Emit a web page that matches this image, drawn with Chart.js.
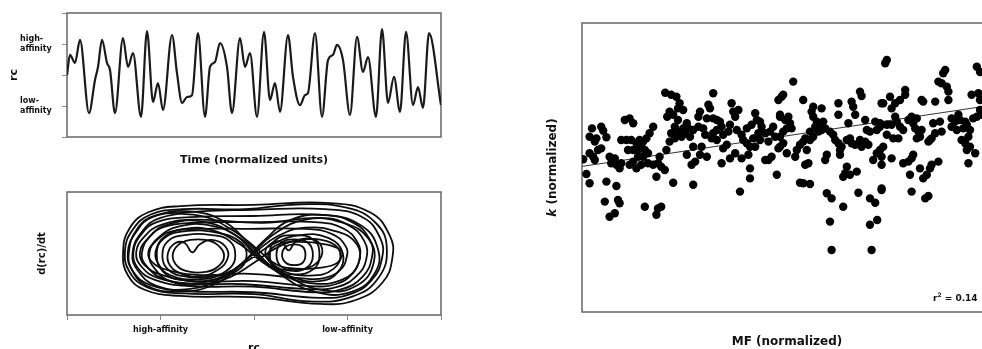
<!DOCTYPE html>
<html>
<head>
<meta charset="utf-8">
<script src="https://cdn.jsdelivr.net/npm/chart.js@4.4.1/dist/chart.umd.min.js"></script>
<style>
  html, body { margin: 0; padding: 0; background: #fff; }
  body { position: relative; width: 982px; height: 349px; overflow: hidden; }
  canvas { position: absolute; }
</style>
</head>
<body>
<canvas id="timeChart" width="460" height="175" style="left:0;top:0;width:460px;height:175px"></canvas>
<canvas id="phaseChart" width="460" height="185" style="left:0;top:175px;width:460px;height:185px"></canvas>
<canvas id="scatterChart" width="470" height="349" style="left:530px;top:0;width:470px;height:349px"></canvas>
<script>
// ---------- rc time course ----------
const timeValues = [0,3,8,13,22,28,31,35,40,43,48,56,61,66,74,80,86,91,96,105,110,115,120,125,131,138,143,148,153,160,165,173,178,183,190,197,203,208,213,221,226,233,238,241,248,255,261,266,270,276,283,290,296,301,309,315,321,327,333,339,346,351,356,362,374];
const rcValues = [2.0,2.65,2.39,3.13,0.77,1.84,2.26,3.13,2.39,2.16,0.77,3.19,2.26,2.71,0.65,3.42,1.13,1.74,0.87,3.29,2.06,1.10,1.29,1.35,3.35,0.65,2.26,2.42,3.03,2.26,0.77,3.19,2.26,2.71,0.65,3.39,1.19,1.74,0.81,3.29,1.94,1.03,1.35,1.42,3.35,0.65,2.48,2.65,2.97,2.48,0.71,3.23,2.10,2.58,0.65,3.48,1.10,1.94,0.81,3.39,1.03,1.61,0.94,3.35,1.03];
const rcTickLabels = ['', ['low-', 'affinity'], '', ['high-', 'affinity'], ''];

// ---------- phase portrait: rc vs d(rc)/dt, one closed orbit per array ----------
const outerOrbitA = [[0.60,0.02],[0.67,0.41],[0.87,0.67],[1.21,0.77],[1.99,0.79],[2.81,0.82],[3.24,0.67],[3.45,0.30],[3.48,-0.07],[3.37,-0.48],[3.08,-0.76],[2.71,-0.82],[1.99,-0.71],[1.21,-0.69],[0.83,-0.59],[0.65,-0.35]];
const outerOrbitB = [[0.62,0.04],[0.70,0.38],[0.89,0.63],[1.23,0.72],[1.90,0.72],[2.50,0.80],[3.00,0.74],[3.30,0.50],[3.42,0.10],[3.33,-0.40],[3.05,-0.70],[2.60,-0.78],[2.00,-0.66],[1.25,-0.65],[0.86,-0.55],[0.67,-0.30]];
const outerOrbitC = [[0.65,0.02],[0.74,0.35],[0.91,0.59],[1.26,0.67],[1.99,0.71],[2.76,0.72],[3.16,0.59],[3.35,0.25],[3.37,-0.07],[3.26,-0.43],[3.03,-0.66],[2.71,-0.72],[1.99,-0.63],[1.26,-0.61],[0.89,-0.51],[0.71,-0.30]];
const outerOrbitD = [[0.71,0.02],[0.79,0.30],[0.96,0.51],[1.32,0.59],[1.99,0.61],[2.71,0.63],[3.05,0.51],[3.24,0.22],[3.26,-0.07],[3.16,-0.38],[2.94,-0.58],[2.65,-0.63],[1.99,-0.54],[1.32,-0.53],[0.94,-0.43],[0.76,-0.24]];
const outerOrbitE = [[0.74,0.02],[0.83,0.28],[1.00,0.46],[1.34,0.55],[2.10,0.50],[2.70,0.58],[3.00,0.47],[3.18,0.20],[3.20,-0.10],[3.10,-0.36],[2.90,-0.54],[2.60,-0.58],[1.90,-0.50],[1.34,-0.49],[0.98,-0.40],[0.80,-0.22]];
const outerOrbitF = [[0.78,0.02],[0.87,0.25],[1.03,0.43],[1.37,0.50],[2.01,0.51],[2.65,0.51],[2.95,0.41],[3.11,0.17],[3.13,-0.07],[3.05,-0.33],[2.87,-0.50],[2.60,-0.53],[2.01,-0.45],[1.37,-0.45],[1.02,-0.35],[0.83,-0.19]];
const outerOrbitG = [[0.87,0.02],[0.95,0.20],[1.10,0.35],[1.42,0.40],[1.96,0.40],[2.55,0.40],[2.83,0.32],[2.98,0.12],[2.99,-0.07],[2.92,-0.27],[2.75,-0.40],[2.55,-0.41],[1.96,-0.33],[1.42,-0.35],[1.08,-0.27],[0.91,-0.14]];
const crossOrbitA = [[0.80,0.0],[0.90,0.30],[1.10,0.48],[1.45,0.52],[1.80,0.30],[2.00,0.0],[2.25,-0.30],[2.60,-0.48],[2.95,-0.42],[3.12,-0.15],[3.10,0.15],[2.90,0.35],[2.55,0.42],[2.25,0.28],[2.00,0.0],[1.75,-0.30],[1.40,-0.48],[1.05,-0.42],[0.86,-0.22]];
const crossOrbitB = [[0.70,0.0],[0.80,0.35],[1.00,0.58],[1.40,0.62],[1.75,0.40],[2.05,0.05],[2.35,-0.35],[2.75,-0.60],[3.10,-0.52],[3.28,-0.15],[3.22,0.25],[2.95,0.50],[2.55,0.55],[2.20,0.30],[1.95,-0.05],[1.65,-0.40],[1.30,-0.58],[0.95,-0.52],[0.76,-0.28]];
const crossOrbitC = [[0.95,0.05],[1.05,0.28],[1.25,0.40],[1.55,0.38],[1.85,0.15],[2.10,-0.15],[2.40,-0.38],[2.70,-0.45],[2.90,-0.30],[2.95,0.00],[2.80,0.25],[2.50,0.30],[2.20,0.15],[1.95,-0.10],[1.70,-0.32],[1.40,-0.42],[1.10,-0.35],[0.97,-0.15]];
const crossOrbitD = [[0.66,0.0],[0.75,0.40],[0.95,0.62],[1.35,0.68],[1.70,0.50],[1.95,0.15],[2.25,-0.30],[2.65,-0.62],[3.05,-0.62],[3.30,-0.30],[3.32,0.10],[3.15,0.45],[2.80,0.62],[2.40,0.55],[2.10,0.20],[1.85,-0.20],[1.55,-0.52],[1.15,-0.62],[0.85,-0.52],[0.70,-0.28]];
const crossOrbitE = [[0.88,0.0],[0.98,0.26],[1.20,0.44],[1.55,0.45],[1.85,0.25],[2.05,-0.05],[2.30,-0.28],[2.60,-0.36],[2.85,-0.25],[2.92,0.02],[2.78,0.20],[2.50,0.22],[2.25,0.10],[2.00,-0.15],[1.75,-0.38],[1.45,-0.50],[1.12,-0.46],[0.94,-0.25]];
const highWellOrbitA = [[1.13,-0.04],[1.19,0.14],[1.32,0.22],[1.48,0.22],[1.61,0.14],[1.68,-0.04],[1.61,-0.22],[1.48,-0.30],[1.32,-0.30],[1.19,-0.22]];
const highWellOrbitB = [[1.34,0.02],[1.42,0.15],[1.55,0.22],[1.69,0.12],[1.72,-0.07],[1.61,-0.27],[1.42,-0.37],[1.23,-0.33],[1.10,-0.19],[1.08,0.01],[1.16,0.17],[1.26,0.17]];
const highWellOrbitC = [[1.02,-0.04],[1.08,0.20],[1.26,0.30],[1.55,0.30],[1.74,0.20],[1.80,-0.04],[1.74,-0.24],[1.55,-0.37],[1.26,-0.37],[1.08,-0.26]];
const highWellOrbitD = [[0.96,-0.02],[1.03,0.24],[1.25,0.36],[1.60,0.34],[1.86,0.18],[1.92,-0.05],[1.82,-0.28],[1.55,-0.43],[1.22,-0.43],[1.03,-0.30]];
const lowWellOrbitA = [[2.30,-0.02],[2.34,0.11],[2.43,0.15],[2.52,0.11],[2.55,-0.02],[2.52,-0.15],[2.43,-0.19],[2.34,-0.15]];
const lowWellOrbitB = [[2.24,-0.02],[2.29,0.17],[2.43,0.23],[2.58,0.17],[2.63,-0.02],[2.58,-0.21],[2.43,-0.27],[2.29,-0.21]];
const lowWellOrbitC = [[2.17,-0.02],[2.23,0.22],[2.43,0.30],[2.64,0.22],[2.70,-0.02],[2.64,-0.25],[2.43,-0.34],[2.23,-0.25]];
const lowWellOrbitD = [[2.15,-0.02],[2.26,0.15],[2.49,0.19],[2.76,0.15],[2.92,0.06],[2.94,-0.04],[2.87,-0.17],[2.65,-0.24],[2.39,-0.24],[2.22,-0.16]];
const lowWellOrbitE = [[2.37,0.05],[2.45,0.20],[2.60,0.24],[2.72,0.12],[2.70,-0.10],[2.55,-0.25],[2.38,-0.28],[2.20,-0.18],[2.12,0.02],[2.20,0.18],[2.30,0.18]];
const phaseOrbits = [outerOrbitA, outerOrbitB, outerOrbitC, outerOrbitD, outerOrbitE, outerOrbitF, outerOrbitG,
  crossOrbitA, crossOrbitB, crossOrbitC, crossOrbitD, crossOrbitE,
  highWellOrbitA, highWellOrbitB, highWellOrbitC, highWellOrbitD,
  lowWellOrbitA, lowWellOrbitB, lowWellOrbitC, lowWellOrbitD, lowWellOrbitE];
const phaseTickLabels = ['', 'high-affinity', '', 'low-affinity', ''];

// ---------- k vs MF: [MF, k] ----------
const mfKPairs = [
  [20.8,54.8],[22.3,54.3],[23.6,53.8],[24.4,52.2],[24,50.9],[21.9,50.1],[21.3,48.8],[22.8,49.3],[24,48],[23.2,46.3],
  [24,45.1],[22.3,44.7],[23.2,43.4],[21.9,42.6],[21.1,40.5],[10.7,48],[11.9,48.4],[12.8,47.2],[17.8,46.3],[16.9,44.7],
  [16.1,43.4],[15.3,42.6],[14.4,43],[13.6,42.2],[12.3,43],[11.1,43],[9.8,43],[11.5,40.5],[12.8,40.5],[14,40.5],
  [14.8,41.3],[15.7,40.5],[16.5,39.7],[14,38.8],[15.3,38.8],[12.8,37.6],[11.9,36.8],[13.6,35.9],[14.8,36.8],[16.5,37.2],
  [17.8,36.8],[19,37.2],[19.8,36.3],[19.4,38.8],[20.7,35.5],[18.6,33.8],[22.8,32.3],[2.5,45.9],[4.8,46.3],[5.3,45.3],
  [1.9,43.8],[3.6,43.4],[6.1,43.7],[3.2,42.6],[0.3,38.2],[1.9,39.7],[2.8,38.8],[4,40.5],[4.8,40.9],[3.2,38],
  [6.9,38.8],[8.2,38.4],[7.3,37.2],[8.6,36.8],[9.8,37.2],[9.4,35.9],[1.1,34.5],[1.9,32.2],[6.1,32.6],[8.6,31.5],
  [5.7,27.6],[9,28],[9.4,27.2],[8.2,24.7],[6.9,23.8],[15.7,26.3],[19,25.9],[19.8,26.3],[18.6,24.3],
  [32.8,54.7],[25.3,50.5],[31.6,51.8],[32,50.9],[29.5,50.1],[29.1,48.8],[31.2,48.4],[26.2,47.2],[25.3,45.9],[26.6,45.9],
  [27.8,45.5],[25.8,44.7],[24.9,43.8],[27,43.8],[29.1,46.3],[30.3,45.9],[30.8,44.3],[32.8,48.4],[33.7,48],[34.5,47.6],
  [34.9,46.3],[33.7,45.5],[32.8,44.7],[32.4,43.4],[33.7,43],[35.3,44.3],[36.6,45.1],[37,46.8],[37.4,52.2],[37.8,50.1],
  [38.3,48.8],[39.1,50.5],[38.7,45.5],[39.9,44.3],[40.3,43],[41.2,45.9],[42.4,46.8],[43.3,49.7],[43.7,48],[44.5,47.6],
  [44.9,46.3],[44.1,44.7],[42.8,43.4],[43.3,41.3],[42,41.3],[41.2,42.2],[44.5,43],[45.8,44.7],[47,45.1],[46.6,42.6],
  [48.3,43.8],[47.8,46.3],[49.1,53],[49.5,48.8],[49.9,53.8],[49.5,43.8],[50.3,42.2],[49.1,40.9],[47.4,38.8],[46.6,38],
  [27.8,41.3],[29.9,41.3],[29.5,39.3],[31.2,38.8],[26.2,39.3],[28.3,37.6],[27.4,36.8],[35.3,40.9],[36.2,41.8],[34.9,37.2],
  [37,38.4],[38.3,39.7],[39.9,38.4],[41.6,39.3],[42,35.9],[42,33.4],[45.8,38],[48.7,34.3],[27.8,31.8],[39.5,30.1],
  [52.8,57.6],[50.3,54.3],[55.3,53],[69.5,55.1],[69.9,54],[57.8,51.3],[59.9,50.9],[57.4,50.1],[64.1,52.2],[67.4,52.6],
  [67.8,51.3],[68.3,49.3],[64.1,49.3],[74.9,52.2],[49.5,49.3],[50.8,48],[51.6,48.8],[52,47.2],[51.2,45.9],[50.3,45.1],
  [52.4,45.9],[57.8,48.8],[58.7,47.6],[58.3,46.3],[59.5,46.8],[60.3,47.6],[60.8,45.9],[59.9,45.5],[59.1,45.1],[57,45.1],
  [57.8,43.8],[62,45.1],[62.8,44.3],[63.3,43],[64.1,42.2],[64.9,41.3],[64.5,40.5],[66.2,43],[67,43.4],[67.4,42.2],
  [68.3,41.8],[69.5,43],[69.9,41.3],[70.8,42.6],[71.6,41.8],[66.6,47.2],[70.8,48],[71.2,45.5],[72,45.1],[73.3,47.6],
  [74.5,46.3],[73.7,45.5],[49.5,41.3],[51.2,39.7],[53.3,38.8],[53.7,40.5],[54.5,41.8],[55.3,42.6],[55.8,43.4],[57,43],
  [56.2,40.5],[55.8,36.8],[56.6,37.2],[60.8,38],[61.2,39.3],[64.5,39.3],[66.2,36.3],[65.8,34.7],[65.3,33.8],[67,34.3],
  [68.7,35.1],[72.8,38],[74.5,40.5],[74.9,36.8],[73.7,39.7],[54.5,32.3],[55.3,32.2],[57,32],[61.2,29.7],[62.4,28.4],
  [65.3,26.3],[69.1,29.8],[72,28.4],[73.3,27.3],[74.9,30.5],[62,22.6],[72,21.8],[73.8,23],[62.4,15.5],[72.4,15.5],
  [75.8,62.2],[76.2,63],[90.8,60.5],[90.3,59.7],[98.7,61.3],[99.5,60],[89.1,57.6],[89.9,57.2],[91.2,56.3],[91.6,55.1],
  [97.4,54.3],[99.1,54.7],[99.5,53],[84.9,53],[85.3,52.6],[88.3,52.6],[91.6,53],[80.8,55.5],[80.8,54.3],[79.5,53],
  [78.3,52.2],[77,53.8],[75.3,52.2],[77.4,50.9],[78.3,48.8],[78.7,47.6],[76.2,46.8],[77.4,46.8],[74.5,47.2],[79.5,46.3],
  [80.3,45.5],[81.6,48],[82.4,48.8],[83.7,48.4],[82.8,47.2],[83.3,45.9],[84.1,45.1],[84.9,45.5],[84.5,43.8],[83.7,43.4],
  [87.8,47.2],[89.5,47.6],[89.9,45.1],[88.3,44.7],[87.4,43.4],[86.6,42.6],[87,43],[92.4,48.4],[93.3,47.6],[94.1,49.3],
  [94.5,48],[95.8,47.6],[96.2,46.8],[95.3,45.9],[93.7,45.5],[92.4,46.3],[97,45.5],[97.8,48.4],[98.7,48.8],[99.5,50.5],
  [99.9,49.3],[94.9,43],[95.8,42.2],[96.6,43.8],[96.2,40.5],[97,41.3],[98.3,39.7],[96.6,37.2],[76.2,44.3],[77.8,43.4],
  [79.1,43.4],[75.3,41.3],[74.9,38.8],[77.4,38.4],[80.3,37.2],[81.6,37.6],[82.4,38.4],[82.8,39.3],[82,34.3],[84.5,35.9],
  [85.3,33.4],[86.2,34.3],[87,35.9],[87.4,36.8],[89.1,37.6],[74.9,30.9],[82.4,30.1],[85.8,28.4],[86.6,29]
];
const fitMF = [0, 102.5];
const fitK = [36.4, 51.7];
const rSquared = '0.14';

// ---------- shared helpers ----------
const FONT = 'DejaVu Sans';
const INK = '#111';
const FRAME = '#6f6f6f';

const framePlugin = {
  id: 'frame',
  beforeDatasetsDraw(chart) {
    const { ctx, chartArea: a } = chart;
    ctx.save();
    ctx.strokeStyle = FRAME;
    ctx.lineWidth = 1.6;
    ctx.strokeRect(a.left, a.top, a.right - a.left, a.bottom - a.top);
    ctx.restore();
  }
};

// mark every line element as a closed path so each orbit joins smoothly
const closedOrbits = {
  id: 'closedOrbits',
  beforeDatasetsDraw(chart) {
    chart.getSortedVisibleDatasetMetas().forEach(meta => {
      const line = meta.dataset;
      if (!line) return;
      line._loop = true;
      line._fullLoop = true;
      line._pointsUpdated = false;
      delete line._segments;
      line._path = undefined;
    });
  }
};

const baseOptions = {
  responsive: false,
  animation: false,
  events: [],
  plugins: { legend: { display: false }, tooltip: { enabled: false } }
};

// ---------- time course ----------
new Chart(document.getElementById('timeChart'), {
  type: 'line',
  data: {
    datasets: [{
      data: timeValues.map((t, i) => ({ x: t, y: rcValues[i] })),
      borderColor: '#1a1a1a',
      borderWidth: 2.2,
      pointRadius: 0,
      cubicInterpolationMode: 'monotone',
      fill: false
    }]
  },
  options: {
    ...baseOptions,
    layout: { padding: { top: 13, right: 19, left: 20, bottom: 0 } },
    scales: {
      x: {
        type: 'linear', min: 0, max: 374,
        grid: { display: false }, border: { display: false },
        ticks: { display: false },
        title: { display: true, text: 'Time (normalized units)', color: INK,
                 font: { family: FONT, weight: 'bold', size: 11 }, padding: { top: 0, bottom: 8 } },
        afterFit(s) { s.height = 38; }
      },
      y: {
        type: 'linear', min: 0, max: 4,
        border: { display: false },
        grid: { drawOnChartArea: false, drawTicks: true, tickLength: 5, color: '#8a8a8a' },
        ticks: { stepSize: 1, autoSkip: false, crossAlign: 'far', padding: 0, color: INK,
                 font: { family: FONT, weight: 'bold', size: 8, lineHeight: 1.15 },
                 callback: v => rcTickLabels[v] },
        title: { display: true, text: 'rc', color: INK,
                 font: { family: FONT, weight: 'bold', size: 11 }, padding: { top: -12.6, bottom: 0 } },
        afterFit(s) { s.width = 47; }
      }
    }
  },
  plugins: [framePlugin]
});

// ---------- phase portrait ----------
new Chart(document.getElementById('phaseChart'), {
  type: 'line',
  data: {
    datasets: phaseOrbits.map(orbit => ({
      data: orbit.map(([x, y]) => ({ x, y })),
      borderColor: '#0d0d0d',
      borderWidth: 1.8,
      pointRadius: 0,
      tension: 0.45,
      spanGaps: true,
      fill: false
    }))
  },
  options: {
    ...baseOptions,
    layout: { padding: { top: 17, right: 19, left: 0, bottom: 0 } },
    scales: {
      x: {
        type: 'linear', min: 0, max: 4,
        border: { display: false },
        grid: { drawOnChartArea: false, drawTicks: true, tickLength: 5, color: '#8a8a8a' },
        ticks: { stepSize: 1, autoSkip: false, maxRotation: 0, padding: 5, color: INK,
                 font: { family: FONT, weight: 'bold', size: 8 },
                 callback: v => phaseTickLabels[v] },
        title: { display: true, text: 'rc', color: INK,
                 font: { family: FONT, weight: 'bold', size: 11 }, padding: { top: 0, bottom: 5 } },
        afterFit(s) { s.height = 45; }
      },
      y: {
        type: 'linear', min: -1, max: 1,
        border: { display: false },
        grid: { display: false },
        ticks: { display: false },
        title: { display: true, text: 'd(rc)/dt', color: INK,
                 font: { family: FONT, weight: 'bold', size: 10 }, padding: { top: 36, bottom: 0 } },
        afterFit(s) { s.width = 67; }
      }
    }
  },
  plugins: [framePlugin, closedOrbits]
});

// ---------- k vs MF scatter ----------
const scatterText = {
  id: 'scatterText',
  afterDraw(chart) {
    const { ctx, chartArea: a } = chart;
    ctx.save();
    ctx.fillStyle = INK;
    // y-axis title: italic k followed by bold text
    const italic = `italic bold 12px "${FONT}"`;
    const bold = `bold 12px "${FONT}"`;
    ctx.font = italic; const wk = ctx.measureText('k').width;
    ctx.font = bold; const wr = ctx.measureText(' (normalized)').width;
    ctx.translate(23, (a.top + a.bottom) / 2);
    ctx.rotate(-Math.PI / 2);
    ctx.textBaseline = 'middle';
    ctx.textAlign = 'left';
    ctx.font = italic; ctx.fillText('k', -(wk + wr) / 2, 0);
    ctx.font = bold; ctx.fillText(' (normalized)', -(wk + wr) / 2 + wk, 0);
    ctx.restore();

    // goodness of fit
    ctx.save();
    ctx.fillStyle = INK;
    ctx.textBaseline = 'alphabetic';
    let x = 403;
    const y = 301;
    ctx.font = `bold 9px "${FONT}"`;
    ctx.fillText('r', x, y); x += ctx.measureText('r').width;
    ctx.font = `bold 6px "${FONT}"`;
    ctx.fillText('2', x, y - 4); x += ctx.measureText('2').width;
    ctx.font = `bold 9px "${FONT}"`;
    ctx.fillText(' = ' + rSquared, x, y);
    ctx.restore();
  }
};

new Chart(document.getElementById('scatterChart'), {
  type: 'scatter',
  data: {
    datasets: [{
      data: mfKPairs.map(([x, y]) => ({ x, y })),
      backgroundColor: '#000',
      borderWidth: 0,
      pointRadius: 4.2
    }, {
      data: fitMF.map((x, i) => ({ x, y: fitK[i] })),
      showLine: true,
      borderColor: '#333',
      borderWidth: 1,
      pointRadius: 0
    }]
  },
  options: {
    ...baseOptions,
    layout: { padding: { top: 23, right: 8, left: 0, bottom: 0 } },
    scales: {
      x: {
        type: 'linear', min: 0, max: 102.5,
        border: { display: false }, grid: { display: false }, ticks: { display: false },
        title: { display: true, text: 'MF (normalized)', color: INK,
                 font: { family: FONT, weight: 'bold', size: 12 }, padding: { top: 0, bottom: 0 } },
        afterFit(s) { s.height = 37; }
      },
      y: {
        type: 'linear', min: 0, max: 72.25,
        border: { display: false }, grid: { display: false }, ticks: { display: false },
        afterFit(s) { s.width = 52; }
      }
    }
  },
  plugins: [framePlugin, scatterText]
});
</script>
</body>
</html>
